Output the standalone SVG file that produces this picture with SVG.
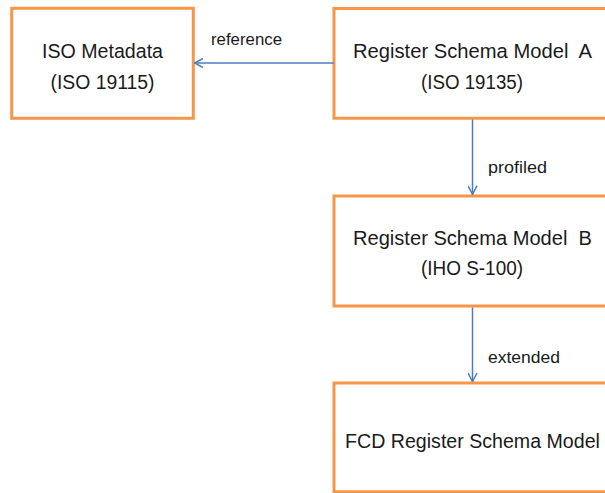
<svg xmlns="http://www.w3.org/2000/svg" width="605" height="493" viewBox="0 0 605 493">
<defs>
<style>
.box{fill:#ffffff;stroke:#F79646;stroke-width:3}
.t{font-family:"Liberation Sans",Arial,sans-serif;font-size:20.5px;fill:#1a1a1a;text-anchor:middle}
.lbl{font-family:"Liberation Sans",Arial,sans-serif;font-size:17px;fill:#1a1a1a}
.con{fill:none;stroke:#4A7EBB;stroke-width:1.5}
</style>
<marker id="arr" viewBox="0 0 10 10" refX="9.5" refY="5" markerWidth="10" markerHeight="10" markerUnits="userSpaceOnUse" orient="auto">
<path d="M1,0.5 L9.5,5 L1,9.5" fill="none" stroke="#4A7EBB" stroke-width="1.5"/>
</marker>
</defs>
<rect width="605" height="493" fill="#ffffff"/>
<g id="iso-metadata">
<rect class="box" x="11.7" y="8.3" width="181.6" height="110"/>
<text class="t" x="102.5" y="58.3" textLength="121" lengthAdjust="spacingAndGlyphs">ISO Metadata</text>
<text class="t" x="102.5" y="88.8" textLength="104" lengthAdjust="spacingAndGlyphs">(ISO 19115)</text>
</g>
<g id="model-a">
<path class="box" d="M605,8.5 H334 V118.2 H605"/>
<text class="t" x="472.5" y="58.3" textLength="239" lengthAdjust="spacingAndGlyphs" xml:space="preserve">Register Schema Model  A</text>
<text class="t" x="472" y="89.3" textLength="102" lengthAdjust="spacingAndGlyphs">(ISO 19135)</text>
</g>
<g id="model-b">
<path class="box" d="M605,196 H334 V306 H605"/>
<text class="t" x="472.5" y="245" textLength="239" lengthAdjust="spacingAndGlyphs" xml:space="preserve">Register Schema Model  B</text>
<text class="t" x="472" y="275" textLength="102" lengthAdjust="spacingAndGlyphs">(IHO S-100)</text>
</g>
<g id="fcd-model">
<path class="box" d="M605,383 H334 V491.8 H605"/>
<text class="t" x="472.5" y="448.3" style="font-size:19.6px">FCD Register Schema Model</text>
</g>
<g id="connectors">
<line class="con" x1="334" y1="63" x2="194.5" y2="63" marker-end="url(#arr)"/>
<text class="lbl" x="211" y="45" textLength="71" lengthAdjust="spacingAndGlyphs">reference</text>
<line class="con" x1="472.5" y1="119.5" x2="472.5" y2="194.3" marker-end="url(#arr)"/>
<text class="lbl" x="488" y="173" textLength="59" lengthAdjust="spacingAndGlyphs">profiled</text>
<line class="con" x1="472.5" y1="307.5" x2="472.5" y2="381.5" marker-end="url(#arr)"/>
<text class="lbl" x="488" y="363" textLength="72" lengthAdjust="spacingAndGlyphs">extended</text>
</g>
</svg>
